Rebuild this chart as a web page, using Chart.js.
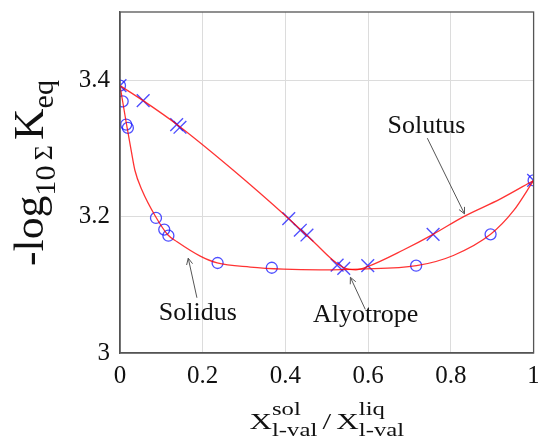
<!DOCTYPE html>
<html>
<head>
<meta charset="utf-8">
<script src="https://cdn.jsdelivr.net/npm/chart.js@4"></script>
<style>
  html, body { margin: 0; background: #fff; overflow: hidden; }
</style>
</head>
<body>
<canvas id="phaseChart" width="544" height="442"></canvas>
<script>
// measured points (crosses = liquid, circles = solid)
const crossX  = [0, 0.056, 0.137, 0.145, 0.408, 0.436, 0.452, 0.525, 0.541, 0.599, 0.757, 1];
const crossY  = [3.392, 3.370, 3.335, 3.331, 3.197, 3.180, 3.173, 3.129, 3.124, 3.128, 3.174, 3.253];
const circleX = [0, 0.0065, 0.015, 0.019, 0.087, 0.107, 0.117, 0.236, 0.367, 0.716, 0.896, 1];
const circleY = [3.392, 3.369, 3.335, 3.330, 3.198, 3.181, 3.172, 3.132, 3.125, 3.128, 3.174, 3.253];

// fitted curves
const solidusX = [0, 0.015, 0.027, 0.036, 0.053, 0.087, 0.116, 0.138, 0.194, 0.235, 0.315, 0.395, 0.484, 0.581, 0.717, 0.806, 0.896, 0.952, 1];
const solidusY = [3.392, 3.338, 3.297, 3.268, 3.239, 3.199, 3.173, 3.163, 3.142, 3.132, 3.126, 3.123, 3.122, 3.123, 3.128, 3.143, 3.174, 3.209, 3.253];
const solutusX = [0, 0.056, 0.14, 0.274, 0.408, 0.47, 0.515, 0.545, 0.57, 0.6, 0.685, 0.757, 0.831, 0.92, 1];
const solutusY = [3.392, 3.370, 3.334, 3.268, 3.197, 3.162, 3.136, 3.124, 3.122, 3.127, 3.151, 3.174, 3.200, 3.226, 3.253];

const xTicks = [0, 0.2, 0.4, 0.6, 0.8, 1];
const yTicks = [3, 3.2, 3.4];

const SERIF = "'Liberation Serif', 'DejaVu Serif', serif";
const BLUE = 'rgba(20,20,255,0.75)';
const RED = 'rgba(255,0,0,0.8)';

const toPts = (xs, ys) => xs.map((x, i) => ({ x: x, y: ys[i] }));

// labels with arrows, in data coordinates
const notes = [
    { text: 'Solutus',   at: [0.741, 3.322], from: [0.743, 3.315], to: [0.833, 3.204] },
    { text: 'Solidus',   at: [0.188, 3.048], from: [0.186, 3.081], to: [0.165, 3.139] },
    { text: 'Alyotrope', at: [0.594, 3.046], from: [0.593, 3.064], to: [0.557, 3.111] }
];

// draw groups of text pieces side by side; pieces in a group share x (sub/sup stacks)
function richWidth(ctx, groups) {
    let w = 0;
    groups.forEach(g => {
        if (g.gap) { w += g.gap; return; }
        let m = 0;
        g.forEach(p => { ctx.font = p.s + 'px ' + SERIF; m = Math.max(m, ctx.measureText(p.t).width); });
        w += m;
    });
    return w;
}
function drawRich(ctx, groups, x0) {
    let x = x0;
    groups.forEach(g => {
        if (g.gap) { x += g.gap; return; }
        let m = 0;
        g.forEach(p => {
            ctx.font = p.s + 'px ' + SERIF;
            ctx.fillText(p.t, x, p.dy || 0);
            m = Math.max(m, ctx.measureText(p.t).width);
        });
        x += m;
    });
}

const titlePlugin = {
    id: 'titles',
    afterDraw(chart) {
        const ctx = chart.ctx;
        const area = chart.chartArea;
        ctx.save();
        ctx.fillStyle = '#111';
        ctx.textAlign = 'left';
        ctx.textBaseline = 'alphabetic';

        // x title
        const xt = [
            [{ t: 'X', s: 24 }],
            [{ t: 'sol', s: 19, dy: -14 }, { t: 'l-val', s: 19, dy: 7 }],
            { gap: 4 },
            [{ t: '/', s: 24 }],
            { gap: 4 },
            [{ t: 'X', s: 24 }],
            [{ t: 'liq', s: 19, dy: -14 }, { t: 'l-val', s: 19, dy: 7 }]
        ];
        const kx = 1.3;
        let w = richWidth(ctx, xt) * kx;
        ctx.save();
        ctx.translate((area.left + area.right) / 2 - w / 2, 429);
        ctx.scale(kx, 1);
        drawRich(ctx, xt, 0);
        ctx.restore();

        // y title
        const yt = [
            [{ t: '-log', s: 42 }],
            [{ t: '10', s: 29, dy: 12 }],
            { gap: 5 },
            [{ t: '\u03A3', s: 25, dy: 9 }],
            { gap: 5 },
            [{ t: 'K', s: 42 }],
            [{ t: 'eq', s: 29, dy: 10 }]
        ];
        const ky = 1.04;
        w = richWidth(ctx, yt) * ky;
        ctx.save();
        ctx.translate(43, 173);
        ctx.rotate(-Math.PI / 2);
        ctx.translate(-w / 2, 0);
        ctx.scale(ky, 1);
        drawRich(ctx, yt, 0);
        ctx.restore();

        ctx.restore();
    },
    afterDatasetsDraw(chart) {
        const ctx = chart.ctx;
        const xs = chart.scales.x, ys = chart.scales.y;
        const a = chart.chartArea;
        ctx.save();
        // box frame
        ctx.strokeStyle = '#555';
        ctx.lineWidth = 1.3;
        ctx.strokeRect(a.left, a.top, a.right - a.left, a.bottom - a.top);

        notes.forEach(n => {
            const px = v => xs.getPixelForValue(v[0]);
            const py = v => ys.getPixelForValue(v[1]);
            const x1 = px(n.from), y1 = py(n.from), x2 = px(n.to), y2 = py(n.to);
            ctx.strokeStyle = '#555';
            ctx.lineWidth = 1;
            ctx.beginPath();
            ctx.moveTo(x1, y1);
            ctx.lineTo(x2, y2);
            const ang = Math.atan2(y2 - y1, x2 - x1);
            const L = 7, sp = 0.45;
            ctx.moveTo(x2 - L * Math.cos(ang - sp), y2 - L * Math.sin(ang - sp));
            ctx.lineTo(x2, y2);
            ctx.lineTo(x2 - L * Math.cos(ang + sp), y2 - L * Math.sin(ang + sp));
            ctx.stroke();

            ctx.fillStyle = '#111';
            ctx.font = '26px ' + SERIF;
            ctx.textAlign = 'center';
            ctx.textBaseline = 'alphabetic';
            ctx.fillText(n.text, px(n.at), py(n.at));
        });
        ctx.restore();
    }
};

const tickFont = { family: SERIF, size: 25 };

new Chart(document.getElementById('phaseChart'), {
    type: 'scatter',
    data: {
        datasets: [
            {
                data: toPts(solidusX, solidusY),
                showLine: true, pointRadius: 0,
                borderColor: RED, borderWidth: 1.3,
                cubicInterpolationMode: 'monotone'
            },
            {
                data: toPts(solutusX, solutusY),
                showLine: true, pointRadius: 0,
                borderColor: RED, borderWidth: 1.3,
                cubicInterpolationMode: 'monotone'
            },
            {
                data: toPts(crossX, crossY),
                pointStyle: 'crossRot', pointRadius: 9,
                borderColor: BLUE, backgroundColor: BLUE, pointBorderWidth: 1.4
            },
            {
                data: toPts(circleX, circleY),
                pointStyle: 'circle', pointRadius: 5.5,
                borderColor: BLUE, backgroundColor: 'rgba(0,0,0,0)', pointBorderWidth: 1.3
            }
        ]
    },
    options: {
        responsive: false,
        animation: false,
        layout: { padding: { top: 12, right: 0, left: 0, bottom: 0 } },
        plugins: {
            legend: { display: false },
            tooltip: { enabled: false }
        },
        scales: {
            x: {
                type: 'linear', min: 0, max: 1,
                afterBuildTicks: axis => { axis.ticks = xTicks.map(v => ({ value: v })); },
                afterFit: s => { s.height = 89; s.paddingLeft = 0; s.paddingRight = 0; },
                grid: { color: '#dcdcdc', lineWidth: 1, drawTicks: false },
                border: { color: '#555', width: 1.3 },
                ticks: {
                    padding: 8, color: '#111', font: tickFont, maxRotation: 0,
                    callback: v => String(+v.toFixed(1))
                }
            },
            y: {
                type: 'linear', min: 3, max: 3.5,
                afterBuildTicks: axis => { axis.ticks = yTicks.map(v => ({ value: v })); },
                afterFit: s => { s.width = 120; s.paddingTop = 0; s.paddingBottom = 0; },
                grid: { color: '#dcdcdc', lineWidth: 1, drawTicks: false },
                border: { color: '#555', width: 1.3 },
                ticks: {
                    padding: 10, color: '#111', font: tickFont,
                    callback: v => String(+v.toFixed(1))
                }
            }
        }
    },
    plugins: [titlePlugin]
});
</script>
</body>
</html>
